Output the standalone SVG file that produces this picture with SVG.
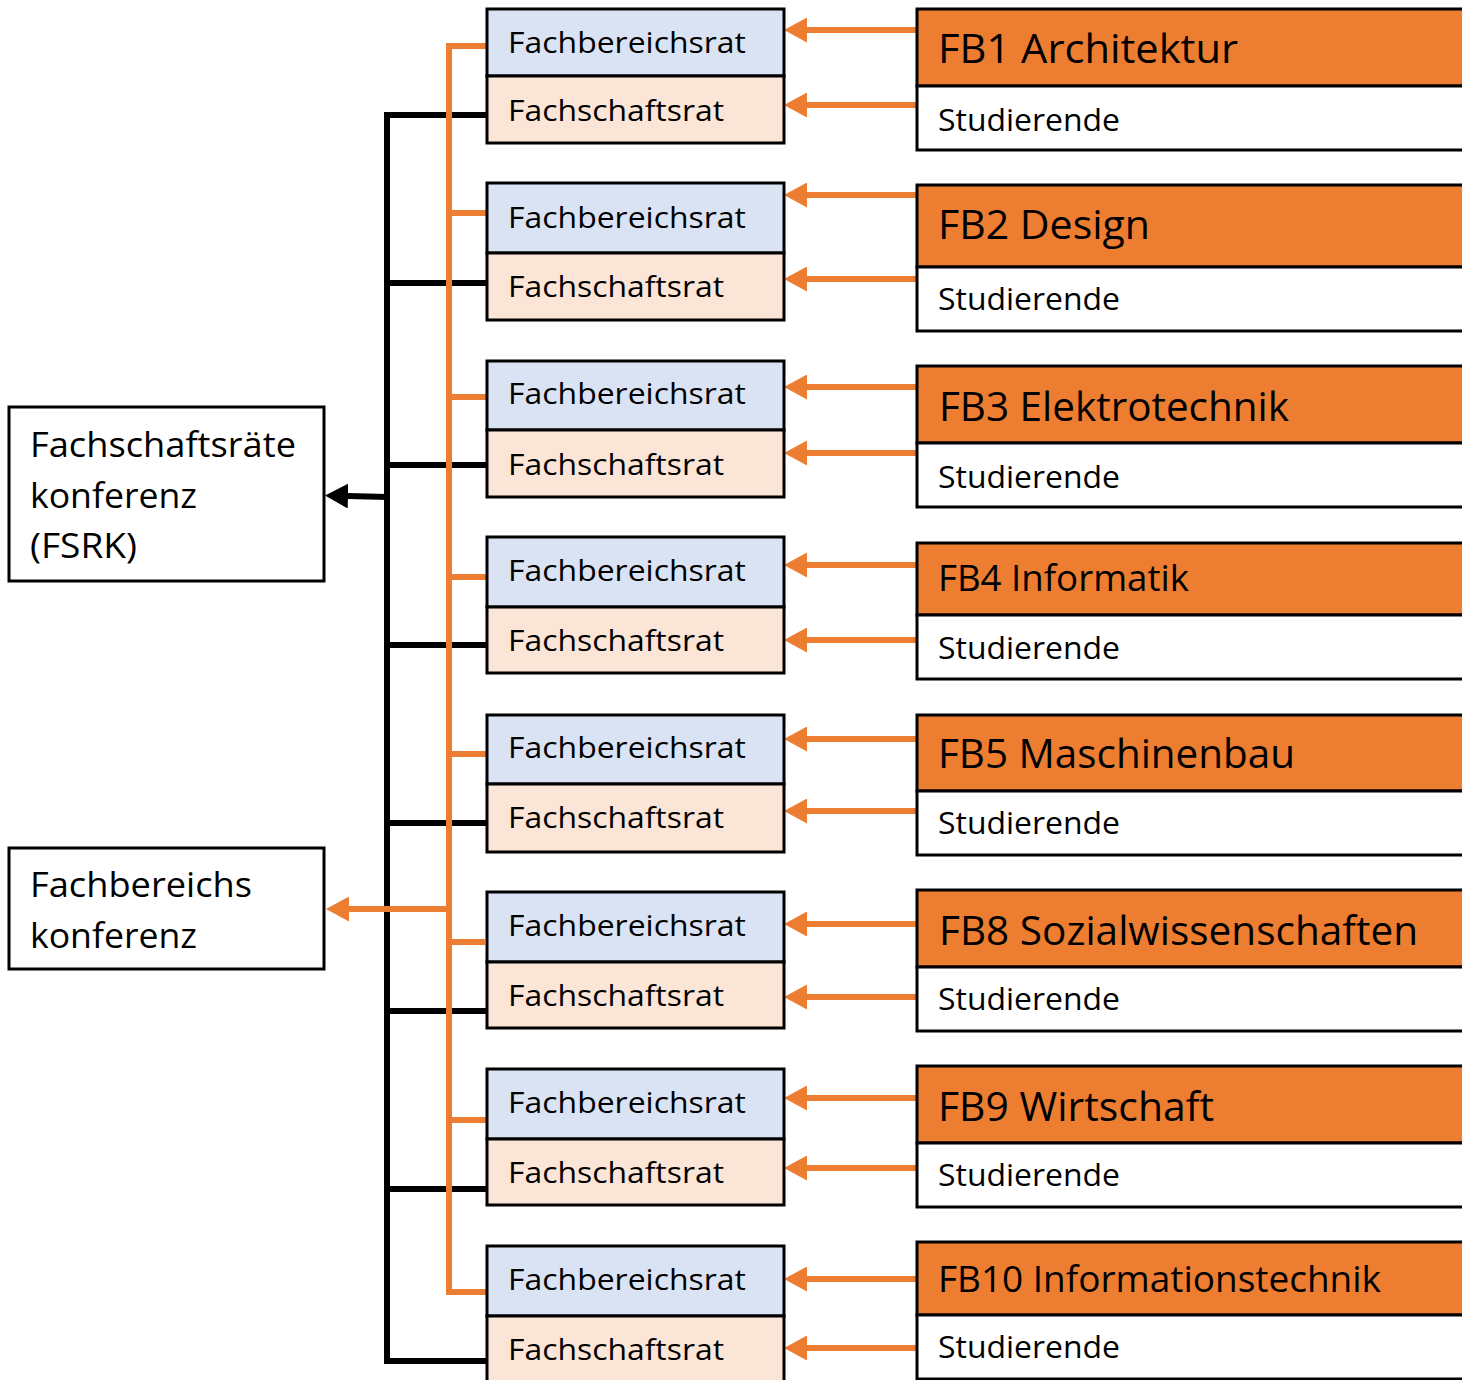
<svg xmlns="http://www.w3.org/2000/svg" width="1462" height="1380" viewBox="0 0 1462 1380">
<style>
text{font-family:"Open Sans","Noto Sans",sans-serif;fill:#000}
.box{stroke:#000;stroke-width:3}
.fbr{fill:#DAE3F3}
.fsr{fill:#FBE5D6}
.hdr{fill:#ED7D31}
.wht{fill:#fff}
.mid{font-size:30px}
.stu{font-size:31px}
.big{font-size:40px}
.sm{font-size:36px}
.lft{font-size:35px}
.org{stroke:#ED7D31;stroke-width:6;fill:none}
.orgt{stroke:#ED7D31;stroke-width:6;fill:none}
.blk{stroke:#000;stroke-width:6;fill:none}
</style>
<defs>
<marker id="ao" markerUnits="userSpaceOnUse" markerWidth="23" markerHeight="25" viewBox="0 0 23 25" refX="0" refY="12.5" orient="auto"><path d="M0,0 L23,12.5 L0,25 z" fill="#ED7D31"/></marker>
<marker id="ab" markerUnits="userSpaceOnUse" markerWidth="23" markerHeight="25" viewBox="0 0 23 25" refX="0" refY="12.5" orient="auto"><path d="M0,0 L23,12.5 L0,25 z" fill="#000"/></marker>
</defs>

<g id="connectors">
<path class="blk" d="M487,115 H387 V1361 H487"/>
<path class="blk" d="M387,283 H487 M387,465 H487 M387,645 H487 M387,823 H487 M387,1011 H487 M387,1189 H487"/>
<path class="blk" d="M387,497 L348,496" marker-end="url(#ab)"/>
<path class="orgt" d="M487,46 H449 V1292 H487"/>
<path class="orgt" d="M449,213 H487 M449,397 H487 M449,577 H487 M449,754 H487 M449,942 H485 M449,1120 H487"/>
<path class="org" d="M449,909 H349" marker-end="url(#ao)"/>
<path class="org" d="M917,30 H807" marker-end="url(#ao)"/>
<path class="org" d="M917,105 H807" marker-end="url(#ao)"/>
<path class="org" d="M917,195 H807" marker-end="url(#ao)"/>
<path class="org" d="M917,279 H807" marker-end="url(#ao)"/>
<path class="org" d="M917,387 H807" marker-end="url(#ao)"/>
<path class="org" d="M917,453 H807" marker-end="url(#ao)"/>
<path class="org" d="M917,565 H807" marker-end="url(#ao)"/>
<path class="org" d="M917,640 H807" marker-end="url(#ao)"/>
<path class="org" d="M917,739 H807" marker-end="url(#ao)"/>
<path class="org" d="M917,811 H807" marker-end="url(#ao)"/>
<path class="org" d="M917,924 H807" marker-end="url(#ao)"/>
<path class="org" d="M917,997 H807" marker-end="url(#ao)"/>
<path class="org" d="M917,1098 H807" marker-end="url(#ao)"/>
<path class="org" d="M917,1168 H807" marker-end="url(#ao)"/>
<path class="org" d="M917,1279 H807" marker-end="url(#ao)"/>
<path class="org" d="M917,1348 H807" marker-end="url(#ao)"/>
</g>

<g id="fsrk">
<rect class="box wht" x="9" y="407" width="315" height="174"/>
<text class="lft" x="30" y="457" textLength="266" lengthAdjust="spacingAndGlyphs">Fachschaftsräte</text>
<text class="lft" x="30" y="508" textLength="167" lengthAdjust="spacingAndGlyphs">konferenz</text>
<text class="lft" x="30" y="558" textLength="107" lengthAdjust="spacingAndGlyphs">(FSRK)</text>
</g>
<g id="fbk">
<rect class="box wht" x="9" y="848" width="315" height="121"/>
<text class="lft" x="30" y="897" textLength="222" lengthAdjust="spacingAndGlyphs">Fachbereichs</text>
<text class="lft" x="30" y="948" textLength="167" lengthAdjust="spacingAndGlyphs">konferenz</text>
</g>

<g id="pair1">
<rect class="box fbr" x="487" y="9" width="297" height="67"/>
<rect class="box fsr" x="487" y="76" width="297" height="67"/>
<text class="mid" x="508" y="53" textLength="238" lengthAdjust="spacingAndGlyphs">Fachbereichsrat</text>
<text class="mid" x="508" y="121" textLength="216" lengthAdjust="spacingAndGlyphs">Fachschaftsrat</text>
</g>
<g id="pair2">
<rect class="box fbr" x="487" y="183" width="297" height="70"/>
<rect class="box fsr" x="487" y="253" width="297" height="67"/>
<text class="mid" x="508" y="228" textLength="238" lengthAdjust="spacingAndGlyphs">Fachbereichsrat</text>
<text class="mid" x="508" y="297" textLength="216" lengthAdjust="spacingAndGlyphs">Fachschaftsrat</text>
</g>
<g id="pair3">
<rect class="box fbr" x="487" y="361" width="297" height="69"/>
<rect class="box fsr" x="487" y="430" width="297" height="67"/>
<text class="mid" x="508" y="404" textLength="238" lengthAdjust="spacingAndGlyphs">Fachbereichsrat</text>
<text class="mid" x="508" y="475" textLength="216" lengthAdjust="spacingAndGlyphs">Fachschaftsrat</text>
</g>
<g id="pair4">
<rect class="box fbr" x="487" y="537" width="297" height="70"/>
<rect class="box fsr" x="487" y="607" width="297" height="66"/>
<text class="mid" x="508" y="581" textLength="238" lengthAdjust="spacingAndGlyphs">Fachbereichsrat</text>
<text class="mid" x="508" y="651" textLength="216" lengthAdjust="spacingAndGlyphs">Fachschaftsrat</text>
</g>
<g id="pair5">
<rect class="box fbr" x="487" y="715" width="297" height="69"/>
<rect class="box fsr" x="487" y="784" width="297" height="68"/>
<text class="mid" x="508" y="758" textLength="238" lengthAdjust="spacingAndGlyphs">Fachbereichsrat</text>
<text class="mid" x="508" y="828" textLength="216" lengthAdjust="spacingAndGlyphs">Fachschaftsrat</text>
</g>
<g id="pair6">
<rect class="box fbr" x="487" y="892" width="297" height="70"/>
<rect class="box fsr" x="487" y="962" width="297" height="66"/>
<text class="mid" x="508" y="936" textLength="238" lengthAdjust="spacingAndGlyphs">Fachbereichsrat</text>
<text class="mid" x="508" y="1006" textLength="216" lengthAdjust="spacingAndGlyphs">Fachschaftsrat</text>
</g>
<g id="pair7">
<rect class="box fbr" x="487" y="1069" width="297" height="70"/>
<rect class="box fsr" x="487" y="1139" width="297" height="66"/>
<text class="mid" x="508" y="1113" textLength="238" lengthAdjust="spacingAndGlyphs">Fachbereichsrat</text>
<text class="mid" x="508" y="1183" textLength="216" lengthAdjust="spacingAndGlyphs">Fachschaftsrat</text>
</g>
<g id="pair8">
<rect class="box fbr" x="487" y="1246" width="297" height="70"/>
<rect class="box fsr" x="487" y="1316" width="297" height="70"/>
<text class="mid" x="508" y="1290" textLength="238" lengthAdjust="spacingAndGlyphs">Fachbereichsrat</text>
<text class="mid" x="508" y="1360" textLength="216" lengthAdjust="spacingAndGlyphs">Fachschaftsrat</text>
</g>

<g id="fb1">
<rect class="box hdr" x="917" y="9" width="560" height="77"/>
<rect class="box wht" x="917" y="86" width="560" height="64"/>
<text class="big" x="938" y="63" textLength="300" lengthAdjust="spacingAndGlyphs">FB1 Architektur</text>
<text class="stu" x="938" y="131" textLength="182" lengthAdjust="spacingAndGlyphs">Studierende</text>
</g>
<g id="fb2">
<rect class="box hdr" x="917" y="185" width="560" height="82"/>
<rect class="box wht" x="917" y="267" width="560" height="64"/>
<text class="big" x="938" y="239" textLength="212" lengthAdjust="spacingAndGlyphs">FB2 Design</text>
<text class="stu" x="938" y="310" textLength="182" lengthAdjust="spacingAndGlyphs">Studierende</text>
</g>
<g id="fb3">
<rect class="box hdr" x="917" y="366" width="560" height="77"/>
<rect class="box wht" x="917" y="443" width="560" height="64"/>
<text class="big" x="939" y="421" textLength="350" lengthAdjust="spacingAndGlyphs">FB3 Elektrotechnik</text>
<text class="stu" x="938" y="488" textLength="182" lengthAdjust="spacingAndGlyphs">Studierende</text>
</g>
<g id="fb4">
<rect class="box hdr" x="917" y="543" width="560" height="72"/>
<rect class="box wht" x="917" y="615" width="560" height="64"/>
<text class="sm" x="938" y="591" textLength="251" lengthAdjust="spacingAndGlyphs">FB4 Informatik</text>
<text class="stu" x="938" y="659" textLength="182" lengthAdjust="spacingAndGlyphs">Studierende</text>
</g>
<g id="fb5">
<rect class="box hdr" x="917" y="715" width="560" height="76"/>
<rect class="box wht" x="917" y="791" width="560" height="64"/>
<text class="big" x="938" y="768" textLength="357" lengthAdjust="spacingAndGlyphs">FB5 Maschinenbau</text>
<text class="stu" x="938" y="834" textLength="182" lengthAdjust="spacingAndGlyphs">Studierende</text>
</g>
<g id="fb8">
<rect class="box hdr" x="917" y="890" width="560" height="77"/>
<rect class="box wht" x="917" y="967" width="560" height="64"/>
<text class="big" x="939" y="945" textLength="479" lengthAdjust="spacingAndGlyphs">FB8 Sozialwissenschaften</text>
<text class="stu" x="938" y="1010" textLength="182" lengthAdjust="spacingAndGlyphs">Studierende</text>
</g>
<g id="fb9">
<rect class="box hdr" x="917" y="1066" width="560" height="77"/>
<rect class="box wht" x="917" y="1143" width="560" height="64"/>
<text class="big" x="938" y="1121" textLength="276" lengthAdjust="spacingAndGlyphs">FB9 Wirtschaft</text>
<text class="stu" x="938" y="1186" textLength="182" lengthAdjust="spacingAndGlyphs">Studierende</text>
</g>
<g id="fb10">
<rect class="box hdr" x="917" y="1242" width="560" height="73"/>
<rect class="box wht" x="917" y="1315" width="560" height="64"/>
<text class="sm" x="938" y="1292" textLength="443" lengthAdjust="spacingAndGlyphs">FB10 Informationstechnik</text>
<text class="stu" x="938" y="1358" textLength="182" lengthAdjust="spacingAndGlyphs">Studierende</text>
</g>
</svg>
